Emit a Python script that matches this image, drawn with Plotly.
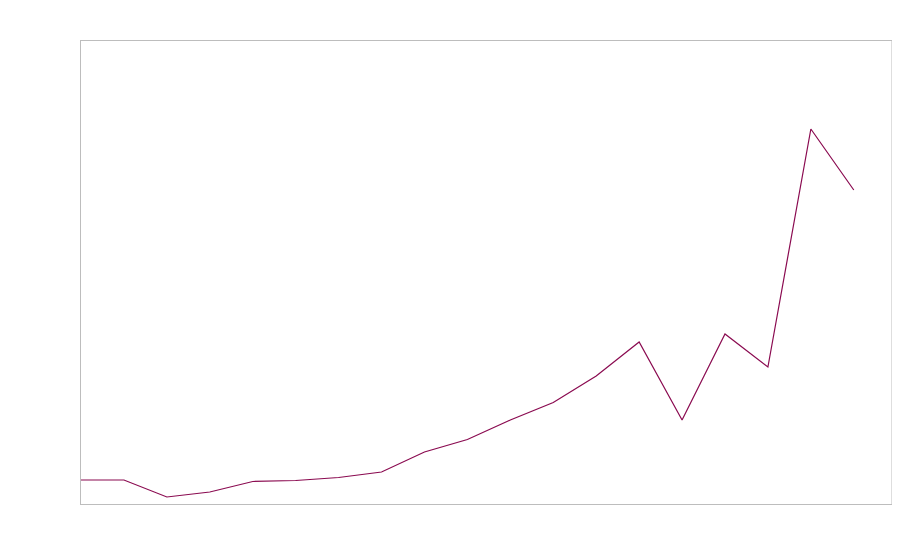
import plotly.graph_objects as go

periods = list(range(19))
values = [24, 24, 7, 12, 22.5, 23.5, 26.5, 32, 52, 64.5, 84, 101.5, 128, 162, 84, 170, 137, 375, 314]

fig = go.Figure()
fig.add_trace(go.Scatter(x=periods, y=values, mode="lines",
                         line=dict(color="#8a0a50", width=1.2), showlegend=False,
                         hoverinfo="skip"))
fig.update_layout(
    width=884, height=544,
    margin=dict(l=73, r=0, t=33, b=48),
    paper_bgcolor="white", plot_bgcolor="white",
)
fig.update_xaxes(range=[0, 18.89], showgrid=False, zeroline=False, showticklabels=False,
                 ticks="", showline=True, mirror=True, linecolor="#bdbdbd", linewidth=1)
fig.update_yaxes(range=[0, 463], showgrid=False, zeroline=False, showticklabels=False,
                 ticks="", showline=True, mirror="all", linecolor="#bdbdbd", linewidth=1)
fig.add_shape(type="line", xref="paper", yref="paper", x0=1, x1=1, y0=0, y1=1,
              line=dict(color="#bdbdbd", width=1))
fig.write_html("out.html")
